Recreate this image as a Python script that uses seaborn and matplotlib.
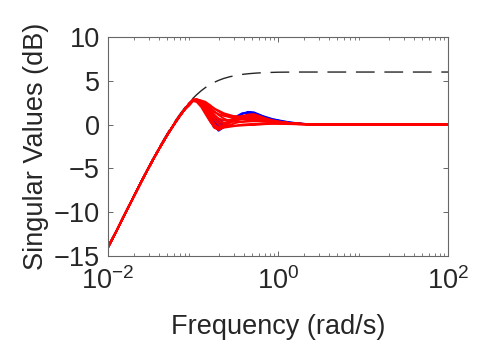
import matplotlib
matplotlib.use("Agg")
import matplotlib.pyplot as plt
import seaborn as sns
import pandas as pd
from matplotlib.ticker import LogLocator, NullFormatter

# Anstieg (gemeinsam fuer alle Kurven), rad/s
freq_rise = [0.01, 0.0125, 0.015, 0.02, 0.025, 0.03, 0.035, 0.04, 0.05, 0.06, 0.07, 0.08]
rise_db = [-14.0, -12.2, -10.65, -8.25, -6.4, -4.95, -3.75, -2.75, -1.15, 0.05, 1.0, 1.75]

# Frequenzraster ab 0.09 rad/s
freq_top = [0.09, 0.1, 0.11, 0.125, 0.14, 0.16, 0.18, 0.2, 0.23, 0.27, 0.32, 0.38,
            0.45, 0.52, 0.6, 0.7, 0.85, 1.0, 1.3, 1.7, 2.2, 3.0, 5.0, 10.0, 100.0]

# Referenz (gestrichelt)
ref_rise_db = [-14.0, -12.1, -10.55, -8.13, -6.29, -4.81, -3.61, -2.58, -0.97, 0.25, 1.19, 1.93]
ref_top_db = [2.53, 3.0, 3.4, 3.87, 4.23, 4.59, 4.85, 5.05, 5.27, 5.46, 5.61, 5.73,
              5.81, 5.86, 5.9, 5.93, 5.96, 5.98, 5.99, 6.0, 6.0, 6.0, 6.0, 6.0, 6.0]

# rote Kurven (Werte ab 0.09 rad/s)
red_curves = {
    "r1": [2.4, 2.8, 2.9, 2.7, 2.4, 2.1, 1.8, 1.6, 1.3, 1.1, 0.9, 0.8, 0.7,
           0.65, 0.55, 0.5, 0.4, 0.3, 0.2, 0.12, 0.06, 0.03, 0.0, 0.0, 0.0],
    "r2": [2.3, 2.8, 2.85, 2.6, 2.2, 1.8, 1.4, 1.2, 1.0, 0.85, 0.75, 0.7, 0.65,
           0.6, 0.5, 0.45, 0.35, 0.28, 0.18, 0.1, 0.05, 0.02, 0.0, 0.0, 0.0],
    "r3": [2.4, 2.85, 2.75, 2.3, 1.5, 0.5, -0.3, -0.6, -0.2, 0.2, 0.6, 0.9, 1.15,
           1.2, 1.0, 0.75, 0.5, 0.35, 0.2, 0.1, 0.05, 0.02, 0.0, 0.0, 0.0],
    "r4": [2.2, 2.75, 2.7, 2.4, 1.9, 1.0, 0.0, -0.4, -0.1, 0.2, 0.5, 0.8, 1.0,
           1.0, 0.85, 0.65, 0.45, 0.3, 0.18, 0.1, 0.04, 0.02, 0.0, 0.0, 0.0],
    "r5": [2.2, 2.7, 2.6, 2.0, 1.2, 0.3, -0.4, -0.5, -0.35, -0.25, -0.15, -0.1, -0.05,
           -0.05, 0.0, 0.05, 0.08, 0.08, 0.06, 0.04, 0.02, 0.01, 0.0, 0.0, 0.0],
    "r6": [2.3, 2.8, 2.7, 2.4, 2.0, 1.3, 0.5, 0.0, -0.2, -0.15, -0.1, 0.0, 0.05,
           0.1, 0.12, 0.15, 0.15, 0.12, 0.08, 0.05, 0.02, 0.01, 0.0, 0.0, 0.0],
    "r7": [2.4, 2.8, 2.8, 2.5, 2.1, 1.5, 0.9, 0.5, 0.2, 0.3, 0.5, 0.65, 0.75,
           0.75, 0.65, 0.55, 0.4, 0.3, 0.18, 0.1, 0.05, 0.02, 0.0, 0.0, 0.0],
    "r8": [2.4, 2.85, 2.8, 2.55, 2.3, 1.9, 1.5, 1.1, 0.7, 0.4, 0.3, 0.3, 0.35,
           0.4, 0.4, 0.35, 0.3, 0.22, 0.14, 0.08, 0.04, 0.02, 0.0, 0.0, 0.0],
    "r9": [2.3, 2.8, 2.75, 2.35, 1.7, 0.8, 0.0, -0.3, 0.0, 0.3, 0.6, 0.8, 0.9,
           0.85, 0.7, 0.55, 0.4, 0.3, 0.16, 0.08, 0.04, 0.02, 0.0, 0.0, 0.0],
    "r10": [2.3, 2.8, 2.8, 2.5, 2.0, 1.2, 0.6, 0.2, 0.2, 0.35, 0.5, 0.6, 0.6,
            0.55, 0.5, 0.4, 0.3, 0.22, 0.12, 0.06, 0.03, 0.01, 0.0, 0.0, 0.0],
    "r11": [2.4, 2.85, 2.9, 2.75, 2.6, 2.2, 1.8, 1.5, 1.15, 1.0, 0.95, 0.95, 0.9,
            0.85, 0.75, 0.6, 0.45, 0.35, 0.2, 0.1, 0.05, 0.02, 0.0, 0.0, 0.0],
    "r12": [2.2, 2.7, 2.65, 2.2, 1.4, 0.4, -0.35, -0.55, -0.3, -0.05, 0.2, 0.35, 0.45,
            0.45, 0.4, 0.35, 0.28, 0.2, 0.12, 0.06, 0.03, 0.01, 0.0, 0.0, 0.0],
    "r13": [2.35, 2.85, 2.75, 2.3, 1.6, 0.6, -0.2, -0.6, -0.25, 0.25, 0.7, 1.0, 1.1,
            1.05, 0.9, 0.7, 0.5, 0.35, 0.2, 0.1, 0.05, 0.02, 0.0, 0.0, 0.0],
    "r14": [2.3, 2.8, 2.8, 2.6, 2.3, 1.7, 1.1, 0.7, 0.5, 0.55, 0.7, 0.8, 0.85,
            0.8, 0.7, 0.55, 0.42, 0.3, 0.18, 0.1, 0.05, 0.02, 0.0, 0.0, 0.0],
}

# blaue Kurven (meist hinter den roten, Werte ab 0.09 rad/s)
blue_curves = {
    "b1": [2.4, 2.8, 2.8, 2.4, 1.6, 0.6, -0.2, -0.7, -0.3, 0.3, 0.8, 1.2, 1.45,
           1.4, 1.15, 0.85, 0.6, 0.45, 0.25, 0.12, 0.05, 0.02, 0.0, 0.0, 0.0],
    "b2": [2.3, 2.75, 2.7, 2.3, 1.4, 0.4, -0.3, -0.6, -0.1, 0.4, 0.9, 1.3, 1.4,
           1.3, 1.1, 0.9, 0.65, 0.5, 0.3, 0.15, 0.06, 0.02, 0.0, 0.0, 0.0],
}
spike_freq = [0.17, 0.175, 0.18, 0.185, 0.19, 0.195, 0.2, 0.205, 0.21, 0.215, 0.22, 0.225]
spike_db = [0.9, -0.3, 0.8, -0.4, 0.7, -0.3, 0.6, -0.2, 0.5, -0.1, 0.4, 0.0]
wiggle_freq = [0.42, 0.44, 0.46, 0.48, 0.5, 0.53, 0.56, 0.6, 0.65, 0.7, 0.75, 0.8,
               0.9, 1.0, 1.1, 1.25, 1.5, 1.8]
wiggle_db = [1.0, 1.45, 0.9, 1.4, 1.0, 1.3, 0.7, 1.0, 0.6, 0.85, 0.45, 0.65,
             0.3, 0.5, 0.2, 0.3, 0.1, 0.15]

sns.set_theme(style="ticks")
plt.rcParams["font.family"] = ["Liberation Sans", "DejaVu Sans"]
plt.rcParams["mathtext.default"] = "regular"

fig = plt.figure(figsize=(4.98, 3.62), dpi=100)
ax = fig.add_axes([0.2169, 0.2928, 0.6827, 0.605])

freq = freq_rise + freq_top

# Daten in Langform
rows = []
for name, vals in blue_curves.items():
    rows += [(f, v, name) for f, v in zip(freq, rise_db + vals)]
rows += [(f, v, "b_spike") for f, v in zip(spike_freq, spike_db)]
rows += [(f, v, "b_wiggle") for f, v in zip(wiggle_freq, wiggle_db)]
blue_df = pd.DataFrame(rows, columns=["freq", "db", "curve"])

rows = []
for name, vals in red_curves.items():
    rows += [(f, v, name) for f, v in zip(freq, rise_db + vals)]
red_df = pd.DataFrame(rows, columns=["freq", "db", "curve"])

ref_df = pd.DataFrame({"freq": freq, "db": ref_rise_db + ref_top_db})

sns.lineplot(data=ref_df, x="freq", y="db", color="#262626", lw=1.0, ax=ax)
ax.lines[-1].set_dashes([13.5, 7])
sns.lineplot(data=blue_df, x="freq", y="db", units="curve", estimator=None,
             color="#0000ff", lw=1.4, ax=ax)
sns.lineplot(data=red_df, x="freq", y="db", units="curve", estimator=None,
             color="#ff0000", lw=1.4, ax=ax)

ax.set_xscale("log")
ax.set_xlim(0.01, 100)
ax.set_ylim(-15, 10)
ax.set_yticks([-15, -10, -5, 0, 5, 10])
ax.set_xticks([0.01, 1, 100])
ax.set_xticklabels(["$10^{-2}$", "$10^{0}$", "$10^{2}$"])
ax.xaxis.set_minor_locator(LogLocator(base=10, subs=range(2, 10), numticks=20))
ax.xaxis.set_minor_formatter(NullFormatter())

tick_col = "#262626"
for s in ax.spines.values():
    s.set_visible(True)
    s.set_color("#666666")
    s.set_linewidth(0.8)
ax.tick_params(which="both", direction="in", top=True, right=True,
               colors="#666666", labelcolor=tick_col, labelsize=19.5)
ax.tick_params(which="major", length=3.5, width=0.7)
ax.tick_params(which="minor", length=2, width=0.6)
ax.tick_params(axis="x", pad=8)
ax.tick_params(axis="y", pad=6)

ax.set_xlabel("Frequency (rad/s)", fontsize=19.5, color=tick_col, labelpad=14)
ax.set_ylabel("Singular Values (dB)", fontsize=19.5, color=tick_col, labelpad=3)

fig.savefig("out.png", dpi=100)
